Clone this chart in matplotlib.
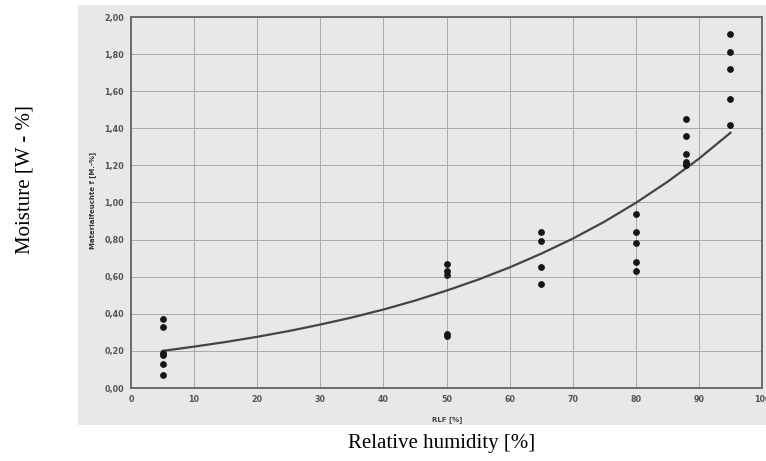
import matplotlib.pyplot as plt
from matplotlib.patches import Rectangle
from matplotlib.ticker import FuncFormatter

# Measured moisture content at each relative humidity level
rh_5 = [0.37, 0.33, 0.19, 0.18, 0.13, 0.07]
rh_50 = [0.67, 0.63, 0.61, 0.29, 0.28]
rh_65 = [0.84, 0.79, 0.65, 0.56]
rh_80 = [0.94, 0.84, 0.78, 0.68, 0.63]
rh_88 = [1.45, 1.36, 1.26, 1.22, 1.21, 1.20]
rh_95 = [1.91, 1.81, 1.72, 1.56, 1.42]
groups = {5: rh_5, 50: rh_50, 65: rh_65, 80: rh_80, 88: rh_88, 95: rh_95}

# Trend curve
curve_x = [5, 10, 15, 20, 25, 30, 35, 40, 45, 50, 55, 60, 65, 70, 75, 80, 85, 90, 95]
curve_y = [0.200, 0.223, 0.248, 0.276, 0.307, 0.342, 0.380, 0.423, 0.471, 0.525,
           0.584, 0.650, 0.724, 0.805, 0.896, 0.998, 1.111, 1.236, 1.376]

x_ticks = list(range(0, 101, 10))
y_ticks = [i * 0.2 for i in range(11)]

bg = '#e8e8e8'
fig = plt.figure(figsize=(7.66, 4.61), dpi=100)
fig.patches.append(Rectangle((78 / 766, 1 - 425 / 461), 688 / 766, 420 / 461,
                             transform=fig.transFigure, facecolor=bg,
                             edgecolor='none', zorder=-5))

ax = fig.add_axes([131 / 766, 1 - 388 / 461, 631 / 766, 371 / 461])
ax.set_zorder(2)
ax.set_facecolor(bg)

for x, vals in groups.items():
    ax.scatter([x] * len(vals), vals, s=15, color='#151515', zorder=3)
ax.plot(curve_x, curve_y, color='#444444', lw=1.6, zorder=2)

ax.set_xlim(0, 100)
ax.set_ylim(0, 2.0)
ax.set_xticks(x_ticks)
ax.set_yticks(y_ticks)
ax.yaxis.set_major_formatter(FuncFormatter(lambda v, p: f'{v:.2f}'.replace('.', ',')))
ax.grid(True, color='#aaaaaa', lw=0.7)
ax.set_axisbelow(True)
ax.tick_params(length=0, labelsize=5.8, labelcolor='#555555', pad=5)
for lab in ax.get_xticklabels() + ax.get_yticklabels():
    lab.set_fontweight('bold')
for s in ax.spines.values():
    s.set_color('#6a6a6a')
    s.set_linewidth(1.4)

# small labels inside the scanned chart
fig.text(93 / 766, 1 - 200 / 461, 'Materialfeuchte f [M.-%]', rotation=90,
         ha='center', va='center', fontsize=5, fontweight='bold', color='#333333')
fig.text(447 / 766, 1 - 420 / 461, 'RLF [%]', ha='center', va='center',
         fontsize=5, fontweight='bold', color='#444444')

# outer labels
fig.text(25 / 766, 1 - 180 / 461, 'Moisture [W - %]', rotation=90, ha='center',
         va='center', fontsize=15, family='Liberation Serif')
fig.text(442 / 766, 1 - 443 / 461, 'Relative humidity [%]', ha='center',
         va='center', fontsize=15, family='Liberation Serif')

fig.savefig('out.png', dpi=100)
